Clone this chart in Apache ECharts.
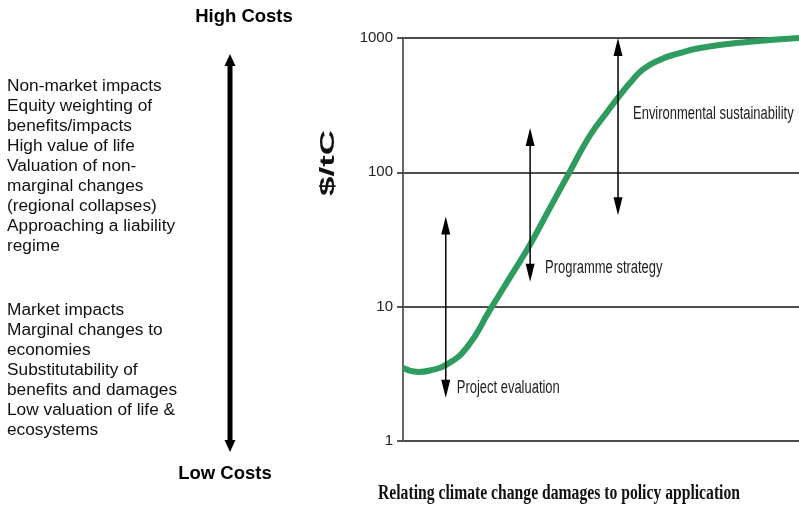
<!DOCTYPE html>
<html>
<head>
<meta charset="utf-8">
<script src="https://cdn.jsdelivr.net/npm/echarts@6/dist/echarts.min.js"></script>
<style>
  html, body { margin: 0; padding: 0; background: #fff; }
  #chart { width: 799px; height: 509px; }
</style>
</head>
<body>
<div id="chart"></div>
<script>
// Position along the policy-application scale (0 = project level, 100 = long-term sustainability)
const curveX = [0, 3.8, 6.8, 11.1, 16.2, 22.0, 27.8, 32.1, 36.6, 41.7, 47.2, 51.5, 54.3, 57.3, 60.6, 64.9, 69.9, 75.0, 86.9, 100];
// Climate change damages, $/tC (log scale)
const curveY = [3.5, 3.27, 3.35, 3.72, 5.0, 9.5, 18, 29, 51, 96, 188, 280, 360, 462, 585, 690, 773, 843, 934, 1000];

// Value ranges relevant to each level of policy application
const rangeNames = ['Project evaluation', 'Programme strategy', 'Environmental sustainability'];
const rangeX = [10.8, 32.1, 54.3];
const rangeLow = [2.1, 15.3, 48];
const rangeHigh = [47, 214, 1000];
const rangeLabelAt = [2.5, 19.5, 272];

const yTicks = [1, 10, 100, 1000];

const highCostNotes = [
  'Non-market impacts',
  'Equity weighting of',
  'benefits/impacts',
  'High value of life',
  'Valuation of non-',
  'marginal changes',
  '(regional collapses)',
  'Approaching a liability',
  'regime'
];
const lowCostNotes = [
  'Market impacts',
  'Marginal changes to',
  'economies',
  'Substitutability of',
  'benefits and damages',
  'Low valuation of life &',
  'ecosystems'
];

const titleText = 'Relating climate change damages to policy application';

const sans = '"Liberation Sans", Arial, sans-serif';
const serif = '"Liberation Serif", "Times New Roman", serif';

// horizontal squeeze so the serif caption spans its slot
function fitScale(text, font, width) {
  const ctx = document.createElement('canvas').getContext('2d');
  ctx.font = font;
  return width / ctx.measureText(text).width;
}
const titleFont = 'bold 20px ' + serif;
const titleScale = fitScale(titleText, titleFont, 362);

const chart = echarts.init(document.getElementById('chart'), null, { renderer: 'canvas' });

function drawNotes(lines, firstY) {
  return lines.map((t, i) => ({
    type: 'text', x: 7, y: firstY + i * 20, scaleX: 1.08,
    style: { text: t, font: '16px ' + sans, fill: '#111', align: 'left', verticalAlign: 'middle' }
  }));
}

const graphics = [
  {
    type: 'text', x: 244, y: 17,
    style: { text: 'High Costs', font: 'bold 18.5px ' + sans, fill: '#000', align: 'center', verticalAlign: 'middle' }
  },
  {
    type: 'text', x: 225, y: 474,
    style: { text: 'Low Costs', font: 'bold 18.5px ' + sans, fill: '#000', align: 'center', verticalAlign: 'middle' }
  },
  // cost direction arrow
  { type: 'line', shape: { x1: 230, y1: 64, x2: 230, y2: 442 }, style: { stroke: '#000', lineWidth: 5 } },
  { type: 'polygon', shape: { points: [[230, 54], [224.5, 66], [235.5, 66]] }, style: { fill: '#000' } },
  { type: 'polygon', shape: { points: [[230, 452], [224.5, 440], [235.5, 440]] }, style: { fill: '#000' } },
  {
    type: 'text', x: 328, y: 163, rotation: Math.PI / 2, scaleX: 1.75,
    style: { text: '$/tC', font: 'bold 20px ' + sans, fill: '#111', align: 'center', verticalAlign: 'middle' }
  },
  {
    type: 'text', x: 559, y: 494, scaleX: titleScale,
    style: { text: titleText, font: titleFont, fill: '#111', align: 'center', verticalAlign: 'middle' }
  }
];

const option = {
  animation: false,
  backgroundColor: '#fff',
  grid: { left: 403, right: 0, top: 38, bottom: 68, containLabel: false },
  xAxis: {
    type: 'value', min: 0, max: 100,
    show: false, splitLine: { show: false }
  },
  yAxis: {
    type: 'log', logBase: 10, min: 1, max: 1000,
    axisLine: { show: true, lineStyle: { color: '#666', width: 2 } },
    axisTick: { show: true, length: 6, lineStyle: { color: '#222', width: 1.5 } },
    axisLabel: {
      margin: 10, color: '#222', fontFamily: sans, fontSize: 15,
      formatter: v => (yTicks.includes(Math.round(v)) ? String(Math.round(v)) : '')
    },
    splitLine: { show: true, lineStyle: { color: '#111', width: 1.5 } }
  },
  graphic: graphics.concat(drawNotes(highCostNotes, 87), drawNotes(lowCostNotes, 311)),
  series: [
    {
      type: 'line',
      data: curveX.map((x, i) => [x, curveY[i]]),
      smooth: 0.5,
      showSymbol: false,
      lineStyle: { color: 'rgb(46,155,95)', width: 6 },
      z: 3
    },
    {
      type: 'custom',
      data: rangeX.map((x, i) => [x, rangeLow[i], rangeHigh[i], rangeLabelAt[i]]),
      z: 4,
      renderItem: (params, api) => {
        const i = params.dataIndex;
        const lo = api.coord([api.value(0), api.value(1)]);
        const hi = api.coord([api.value(0), api.value(2)]);
        const lab = api.coord([api.value(0), api.value(3)]);
        const head = 18, half = 4.5;
        return {
          type: 'group',
          children: [
            { type: 'line', shape: { x1: lo[0], y1: lo[1] - head + 2, x2: hi[0], y2: hi[1] + head - 2 },
              style: { stroke: '#000', lineWidth: 1.5 } },
            { type: 'polygon', shape: { points: [[hi[0], hi[1]], [hi[0] - half, hi[1] + head], [hi[0] + half, hi[1] + head]] },
              style: { fill: '#000' } },
            { type: 'polygon', shape: { points: [[lo[0], lo[1]], [lo[0] - half, lo[1] - head], [lo[0] + half, lo[1] - head]] },
              style: { fill: '#000' } },
            { type: 'text', x: lab[0] + (i === 0 ? 11 : 15), y: lab[1], scaleX: 0.72,
              style: { text: rangeNames[i], font: '18px ' + sans, fill: '#222', align: 'left', verticalAlign: 'middle' } }
          ]
        };
      }
    }
  ]
};

chart.setOption(option);
</script>
</body>
</html>
